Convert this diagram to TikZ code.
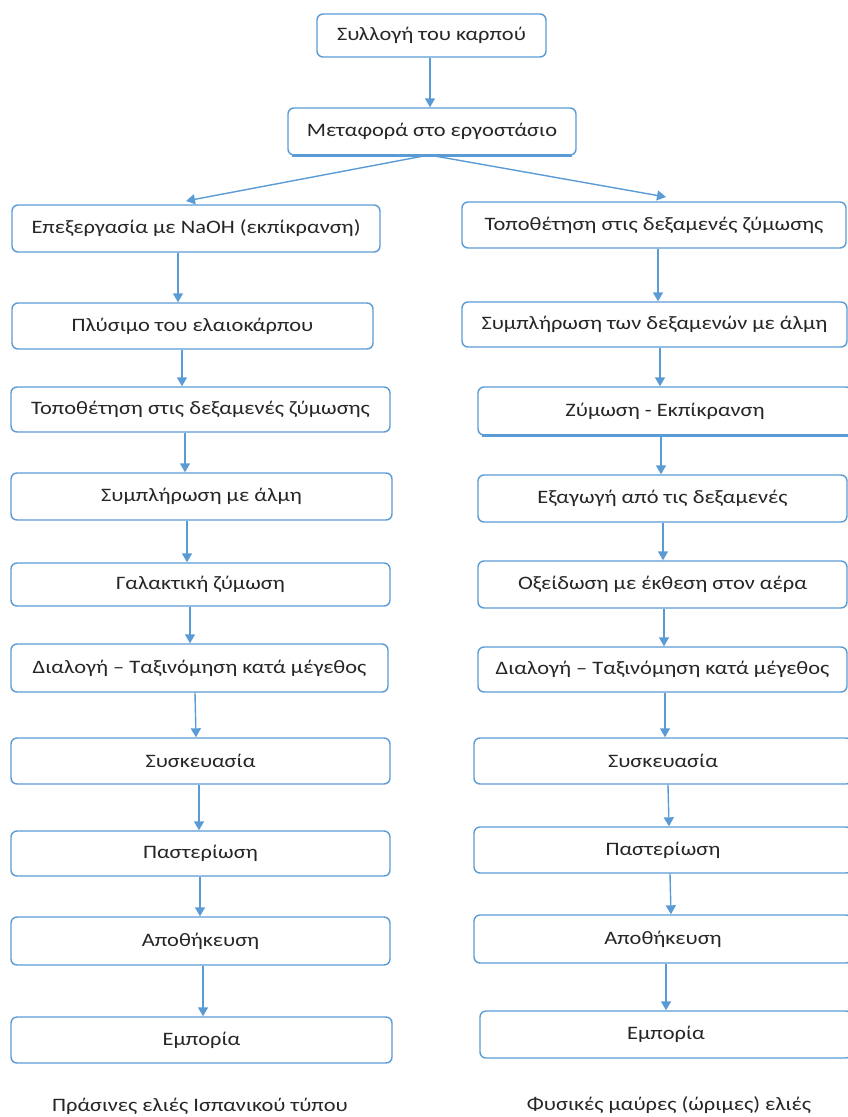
\documentclass[tikz,border=0pt]{standalone}
\usepackage{fontspec}
\setmainfont{Carlito}[FakeStretch=1.18]
\usetikzlibrary{arrows.meta}
\definecolor{boxblue}{RGB}{91,155,213}
\definecolor{arrblue}{RGB}{91,155,213}
\definecolor{txt}{RGB}{38,38,38}
\tikzset{
  box/.style={draw=boxblue, line width=1.4pt, rounded corners=6pt, fill=white,
    inner sep=0pt, text=txt, font=\fontsize{19}{22}\selectfont, anchor=center},
  arr/.style={draw=arrblue, line width=1.4pt, -{Triangle[width=10pt,length=9pt]}},
  lbl/.style={text=txt, font=\fontsize{19}{22}\selectfont, inner sep=0pt},
  shadowline/.style={draw=boxblue, line width=2.6pt}
}
\newcommand{\bx}[6]{% name, x1, y1, x2, y2, text
  \node[box, minimum width={#4-#2}, minimum height={#5-#3}] (#1) at ({(#2+#4)/2},{(#3+#5)/2}) {#6};}
\begin{document}
\begin{tikzpicture}[x=1pt,y=-1pt]
\path[use as bounding box] (0,0) rectangle (848,1117);
\begin{scope}
\clip (0,0) rectangle (848,1117);
% top
\bx{S1}{317}{14}{546}{57}{Συλλογή του καρπού}
\bx{S2}{288}{108}{576}{155}{Μεταφορά στο εργοστάσιο}
% left column
\bx{L1}{12}{205}{380}{252}{Επεξεργασία με NaOH (εκπίκρανση)}
\bx{L2}{12}{303}{373}{349}{Πλύσιμο του ελαιοκάρπου}
\bx{L3}{11}{387}{390}{432}{Τοποθέτηση στις δεξαμενές ζύμωσης}
\bx{L4}{11}{473}{392}{520}{Συμπλήρωση με άλμη}
\bx{L5}{11}{563}{390}{606}{Γαλακτική ζύμωση}
\bx{L6}{11}{644}{388}{692}{Διαλογή – Ταξινόμηση κατά μέγεθος}
\bx{L7}{11}{738}{390}{784}{Συσκευασία}
\bx{L8}{11}{831}{390}{876}{Παστερίωση}
\bx{L9}{11}{917}{390}{965}{Αποθήκευση}
\bx{L10}{11}{1017}{392}{1063}{Εμπορία}
% right column
\bx{R1}{462}{202}{846}{248}{Τοποθέτηση στις δεξαμενές ζύμωσης}
\bx{R2}{462}{302}{847}{347}{Συμπλήρωση των δεξαμενών με άλμη}
\bx{R3}{478}{387}{852}{435}{Ζύμωση - Εκπίκρανση}
\bx{R4}{478}{475}{847}{522}{Εξαγωγή από τις δεξαμενές}
\bx{R5}{478}{561}{847}{608}{Οξείδωση με έκθεση στον αέρα}
\bx{R6}{478}{647}{847}{692}{Διαλογή – Ταξινόμηση κατά μέγεθος}
\bx{R7}{474}{738}{852}{784}{Συσκευασία}
\bx{R8}{474}{827}{852}{873}{Παστερίωση}
\bx{R9}{474}{915}{852}{963}{Αποθήκευση}
\bx{R10}{480}{1011}{852}{1058}{Εμπορία}
% thicker bottom edges
\draw[shadowline] ([xshift=5pt]S2.south west) -- ([xshift=-5pt]S2.south east);
\draw[shadowline] ([xshift=5pt]R3.south west) -- ([xshift=-5pt]R3.south east);
% labels
\node[lbl] (capL) at (200,1106) {Πράσινες ελιές Ισπανικού τύπου};
\node[lbl] (capR) at (669,1105) {Φυσικές μαύρες (ώριμες) ελιές};
% connectors
\coordinate (fan) at (429,155);
\coordinate (tipL) at (186,201);
\coordinate (tipR) at (666,197);
\draw[arr] (S1.south -| 430,0) -- (S2.north -| 430,0);
\draw[arr] (fan) -- (tipL);
\draw[arr] (fan) -- (tipR);
\draw[arr] (L1.south -| 178,0) -- (L2.north -| 178,0);
\draw[arr] (L2.south -| 182,0) -- (L3.north -| 182,0);
\draw[arr] (L3.south -| 185,0) -- (L4.north -| 185,0);
\draw[arr] (L4.south -| 187,0) -- (L5.north -| 187,0);
\draw[arr] (L5.south -| 190,0) -- (L6.north -| 190,0);
\draw[arr] (L6.south -| 195,0) -- (L7.north -| 196,0);
\draw[arr] (L7.south -| 199,0) -- (L8.north -| 199,0);
\draw[arr] (L8.south -| 200,0) -- (L9.north -| 200,0);
\draw[arr] (L9.south -| 203,0) -- (L10.north -| 203,0);
\draw[arr] (R1.south -| 658,0) -- (R2.north -| 658,0);
\draw[arr] (R2.south -| 660,0) -- (R3.north -| 660,0);
\draw[arr] (R3.south -| 661,0) -- (R4.north -| 661,0);
\draw[arr] (R4.south -| 663,0) -- (R5.north -| 663,0);
\draw[arr] (R5.south -| 664,0) -- (R6.north -| 664,0);
\draw[arr] (R6.south -| 665,0) -- (R7.north -| 665,0);
\draw[arr] (R7.south -| 668,0) -- (R8.north -| 669,0);
\draw[arr] (R8.south -| 670,0) -- (R9.north -| 671,0);
\draw[arr] (R9.south -| 666,0) -- (R10.north -| 666,0);
\end{scope}
\end{tikzpicture}
\end{document}
